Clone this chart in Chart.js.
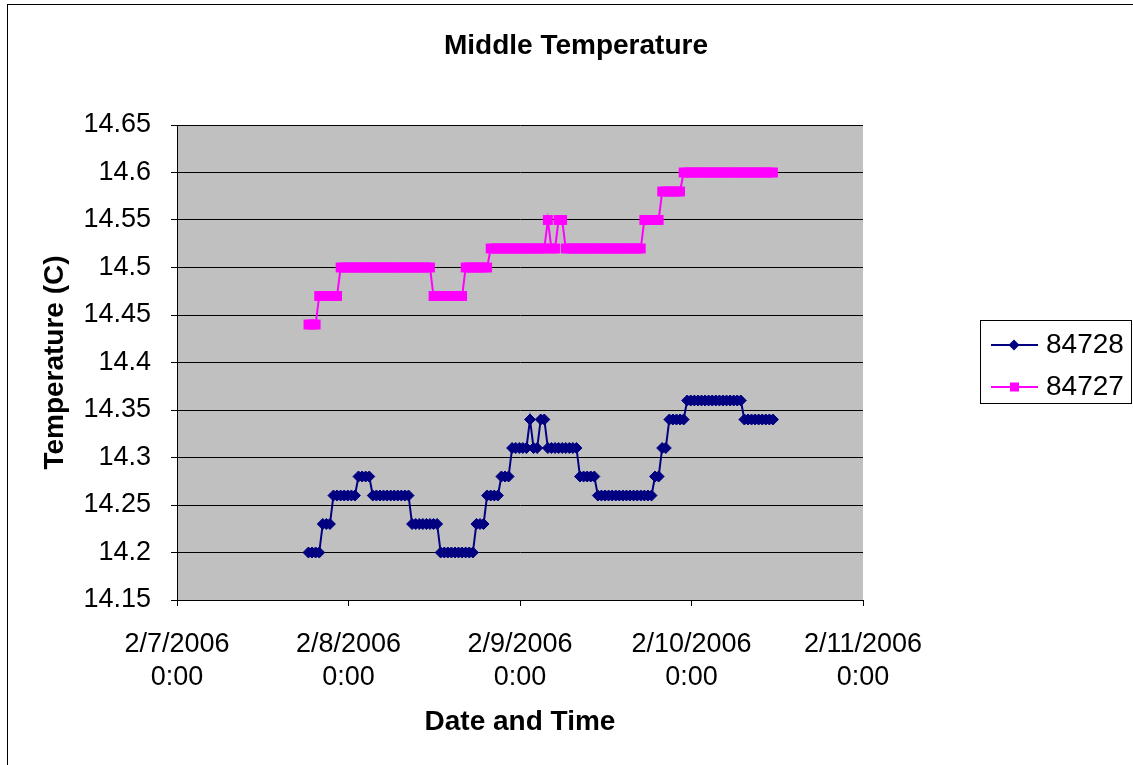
<!DOCTYPE html>
<html>
<head>
<meta charset="utf-8">
<script src="https://cdn.jsdelivr.net/npm/chart.js@4.4.1/dist/chart.umd.min.js"></script>
<style>
  html, body { margin: 0; padding: 0; background: #fff; overflow: hidden; }
  #wrap { position: relative; width: 1133px; height: 765px; }
  canvas { position: absolute; left: 0; top: 0; }
  #frame { position: absolute; left: 7px; top: 4px; width: 1200px; height: 800px; border: 1px solid #000; box-sizing: border-box; pointer-events: none; }
</style>
</head>
<body>
<div id="wrap">
  <canvas id="chart" width="1133" height="765"></canvas>
  <div id="frame"></div>
</div>
<script>
// hours after 2/7/2006 0:00, one reading every half hour
var sampleHours = [
  18.4, 18.9, 19.4, 19.9, 20.4, 20.9, 21.4, 21.9, 22.4, 22.9,
  23.4, 23.9, 24.4, 24.9, 25.4, 25.9, 26.4, 26.9, 27.4, 27.9,
  28.4, 28.9, 29.4, 29.9, 30.4, 30.9, 31.4, 31.9, 32.4, 32.9,
  33.4, 33.9, 34.4, 34.9, 35.4, 35.9, 36.4, 36.9, 37.4, 37.9,
  38.4, 38.9, 39.4, 39.9, 40.4, 40.9, 41.4, 41.9, 42.4, 42.9,
  43.4, 43.9, 44.4, 44.9, 45.4, 45.9, 46.4, 46.9, 47.4, 47.9,
  48.4, 48.9, 49.4, 49.9, 50.4, 50.9, 51.4, 51.9, 52.4, 52.9,
  53.4, 53.9, 54.4, 54.9, 55.4, 55.9, 56.4, 56.9, 57.4, 57.9,
  58.4, 58.9, 59.4, 59.9, 60.4, 60.9, 61.4, 61.9, 62.4, 62.9,
  63.4, 63.9, 64.4, 64.9, 65.4, 65.9, 66.4, 66.9, 67.4, 67.9,
  68.4, 68.9, 69.4, 69.9, 70.4, 70.9, 71.4, 71.9, 72.4, 72.9,
  73.4, 73.9, 74.4, 74.9, 75.4, 75.9, 76.4, 76.9, 77.4, 77.9,
  78.4, 78.9, 79.4, 79.9, 80.4, 80.9, 81.4, 81.9, 82.4, 82.9,
  83.4
];

var temps84728 = [
  14.20, 14.20, 14.20, 14.20, 14.23, 14.23, 14.23, 14.26, 14.26, 14.26,
  14.26, 14.26, 14.26, 14.26, 14.28, 14.28, 14.28, 14.28, 14.26, 14.26,
  14.26, 14.26, 14.26, 14.26, 14.26, 14.26, 14.26, 14.26, 14.26, 14.23,
  14.23, 14.23, 14.23, 14.23, 14.23, 14.23, 14.23, 14.20, 14.20, 14.20,
  14.20, 14.20, 14.20, 14.20, 14.20, 14.20, 14.20, 14.23, 14.23, 14.23,
  14.26, 14.26, 14.26, 14.26, 14.28, 14.28, 14.28, 14.31, 14.31, 14.31,
  14.31, 14.31, 14.34, 14.31, 14.31, 14.34, 14.34, 14.31, 14.31, 14.31,
  14.31, 14.31, 14.31, 14.31, 14.31, 14.31, 14.28, 14.28, 14.28, 14.28,
  14.28, 14.26, 14.26, 14.26, 14.26, 14.26, 14.26, 14.26, 14.26, 14.26,
  14.26, 14.26, 14.26, 14.26, 14.26, 14.26, 14.26, 14.28, 14.28, 14.31,
  14.31, 14.34, 14.34, 14.34, 14.34, 14.34, 14.36, 14.36, 14.36, 14.36,
  14.36, 14.36, 14.36, 14.36, 14.36, 14.36, 14.36, 14.36, 14.36, 14.36,
  14.36, 14.36, 14.34, 14.34, 14.34, 14.34, 14.34, 14.34, 14.34, 14.34,
  14.34
];

var temps84727 = [
  14.44, 14.44, 14.44, 14.47, 14.47, 14.47, 14.47, 14.47, 14.47, 14.50,
  14.50, 14.50, 14.50, 14.50, 14.50, 14.50, 14.50, 14.50, 14.50, 14.50,
  14.50, 14.50, 14.50, 14.50, 14.50, 14.50, 14.50, 14.50, 14.50, 14.50,
  14.50, 14.50, 14.50, 14.50, 14.50, 14.47, 14.47, 14.47, 14.47, 14.47,
  14.47, 14.47, 14.47, 14.47, 14.50, 14.50, 14.50, 14.50, 14.50, 14.50,
  14.50, 14.52, 14.52, 14.52, 14.52, 14.52, 14.52, 14.52, 14.52, 14.52,
  14.52, 14.52, 14.52, 14.52, 14.52, 14.52, 14.52, 14.55, 14.52, 14.52,
  14.55, 14.55, 14.52, 14.52, 14.52, 14.52, 14.52, 14.52, 14.52, 14.52,
  14.52, 14.52, 14.52, 14.52, 14.52, 14.52, 14.52, 14.52, 14.52, 14.52,
  14.52, 14.52, 14.52, 14.52, 14.55, 14.55, 14.55, 14.55, 14.55, 14.58,
  14.58, 14.58, 14.58, 14.58, 14.58, 14.60, 14.60, 14.60, 14.60, 14.60,
  14.60, 14.60, 14.60, 14.60, 14.60, 14.60, 14.60, 14.60, 14.60, 14.60,
  14.60, 14.60, 14.60, 14.60, 14.60, 14.60, 14.60, 14.60, 14.60, 14.60,
  14.60
];

var seriesNames = ['84728', '84727'];
var seriesColors = ['#000080', '#FF00FF'];
var xTickLabels = [
  ['2/7/2006', '0:00'],
  ['2/8/2006', '0:00'],
  ['2/9/2006', '0:00'],
  ['2/10/2006', '0:00'],
  ['2/11/2006', '0:00']
];

function toPoints(values) {
  var pts = [];
  for (var i = 0; i < sampleHours.length; i++) {
    pts.push({ x: sampleHours[i], y: values[i] });
  }
  return pts;
}

// gray plot area like the old excel charts
var plotBackground = {
  id: 'plotBackground',
  beforeDraw: function (chart) {
    var ctx = chart.ctx, a = chart.chartArea;
    ctx.save();
    ctx.fillStyle = '#fff';
    ctx.fillRect(0, 0, chart.width, chart.height);
    ctx.fillStyle = '#C0C0C0';
    ctx.fillRect(a.left, a.top, a.right - a.left, a.bottom - a.top);
    ctx.restore();
  }
};

// legend with a box around it, at the right of the plot
var boxLegend = {
  id: 'boxLegend',
  afterDraw: function (chart) {
    var ctx = chart.ctx;
    ctx.save();
    ctx.strokeStyle = '#000';
    ctx.lineWidth = 1;
    ctx.strokeRect(980.5, 320.5, 151, 83);
    var rows = [345, 387];
    for (var i = 0; i < chart.data.datasets.length; i++) {
      var ds = chart.data.datasets[i];
      var y = rows[i];
      ctx.strokeStyle = ds.borderColor;
      ctx.lineWidth = 2;
      ctx.beginPath();
      ctx.moveTo(991, y);
      ctx.lineTo(1038, y);
      ctx.stroke();
      ctx.fillStyle = ds.backgroundColor;
      ctx.beginPath();
      if (ds.pointStyle === 'rectRot') {
        ctx.moveTo(1014, y - 5.5);
        ctx.lineTo(1019.5, y);
        ctx.lineTo(1014, y + 5.5);
        ctx.lineTo(1008.5, y);
        ctx.closePath();
      } else {
        ctx.rect(1010, y - 4.5, 9, 9);
      }
      ctx.fill();
      ctx.fillStyle = '#000';
      ctx.font = '28px Arial, "Liberation Sans", sans-serif';
      ctx.textBaseline = 'middle';
      ctx.textAlign = 'left';
      ctx.fillText(ds.label, 1046, y);
    }
    ctx.restore();
  }
};

Chart.defaults.font.family = 'Arial, "Liberation Sans", sans-serif';
Chart.defaults.color = '#000';

var ctx = document.getElementById('chart').getContext('2d');
var myChart = new Chart(ctx, {
  type: 'line',
  data: {
    datasets: [{
      label: seriesNames[0],
      data: toPoints(temps84728),
      borderColor: seriesColors[0],
      backgroundColor: seriesColors[0],
      borderWidth: 2,
      pointStyle: 'rectRot',
      pointRadius: 5.5,
      pointBorderWidth: 1,
      tension: 0
    }, {
      label: seriesNames[1],
      data: toPoints(temps84727),
      borderColor: seriesColors[1],
      backgroundColor: seriesColors[1],
      borderWidth: 2,
      pointStyle: 'rect',
      pointRadius: 7,
      pointBorderWidth: 0,
      tension: 0
    }]
  },
  options: {
    responsive: false,
    animation: false,
    devicePixelRatio: 1,
    layout: { padding: { left: 0, right: -19, top: 0, bottom: 0 } },
    plugins: {
      legend: { display: false },
      tooltip: { enabled: false },
      title: {
        display: true,
        text: 'Middle Temperature',
        color: '#000',
        font: { size: 28, weight: 'bold' },
        padding: { top: 29.2, bottom: 62.2 }
      }
    },
    scales: {
      x: {
        type: 'linear',
        min: 0,
        max: 96,
        ticks: {
          stepSize: 24,
          autoSkip: false,
          maxRotation: 0,
          padding: 22,
          color: '#000',
          font: { size: 27, lineHeight: 1.222 },
          callback: function (v) { return xTickLabels[Math.round(v / 24)]; }
        },
        grid: { drawOnChartArea: false, drawTicks: true, tickLength: 6, color: '#000' },
        border: { display: true, color: '#000', width: 1 },
        title: {
          display: true,
          text: 'Date and Time',
          color: '#000',
          font: { size: 28, weight: 'bold' },
          padding: { top: 0, bottom: 26 }
        },
        afterFit: function (s) { s.height = 165; }
      },
      y: {
        min: 14.15,
        max: 14.65,
        ticks: {
          stepSize: 0.05,
          padding: 20,
          color: '#000',
          font: { size: 27 },
          callback: function (v) { return String(+v.toFixed(2)); }
        },
        grid: { color: '#000', lineWidth: 1, drawTicks: true, tickLength: 6 },
        border: { display: true, color: '#000', width: 1 },
        title: {
          display: true,
          text: 'Temperature (C)',
          color: '#000',
          font: { size: 28, weight: 'bold' },
          padding: { top: 38, bottom: 0 }
        },
        afterFit: function (s) { s.width = 177; }
      },
      spacer: {
        type: 'linear',
        position: 'right',
        display: true,
        grid: { display: false, drawTicks: false },
        ticks: { display: false },
        border: { display: false },
        afterFit: function (s) { s.width = 289; }
      }
    }
  },
  plugins: [plotBackground, boxLegend]
});
</script>
</body>
</html>
